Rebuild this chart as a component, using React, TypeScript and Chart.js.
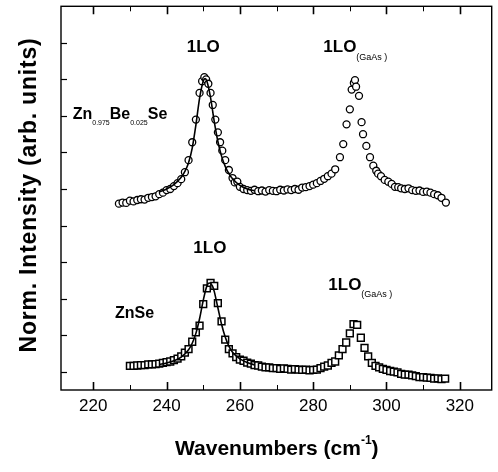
import React, { useEffect, useRef } from "react";
import { Chart, registerables } from "chart.js";

Chart.register(...registerables);

// ---- data ----
const circleX = [
  227, 228, 229, 230, 231, 232, 233, 234, 235, 236, 237, 238, 239, 240, 241, 242, 243, 244, 245, 246,
  247, 248, 249, 249.7, 250.3, 250.8, 251.4, 252, 252.6, 253.3, 254, 254.6, 255.2, 256, 257, 258,
  258.6, 259.3, 260, 261, 262, 263, 264, 265, 266, 267, 268, 269, 270, 271, 272, 273, 274, 275, 276,
  277, 278, 279, 280, 281, 282, 283, 284, 285, 286, 287.3, 288.2, 289.1, 290, 290.5, 291.1, 291.4,
  291.7, 292.5, 293.2, 293.6, 294.5, 295.5, 296.4, 297.2, 297.7, 298.5, 299.5, 300.5, 301.4, 302.3,
  303.2, 304, 305, 306, 307, 308, 309, 310, 311, 312, 313, 314, 315, 316.2,
];
const circleY = [
  5.10, 5.13, 5.12, 5.18, 5.16, 5.20, 5.22, 5.21, 5.26, 5.28, 5.30, 5.36, 5.40, 5.47, 5.50, 5.58, 5.66, 5.77, 5.96, 6.29,
  6.78, 7.40, 8.13, 8.45, 8.56, 8.50, 8.38, 8.13, 7.80, 7.40, 7.05, 6.78, 6.55, 6.29, 6.02, 5.80,
  5.68, 5.70, 5.56, 5.50, 5.47, 5.45, 5.48, 5.44, 5.46, 5.43, 5.47, 5.45, 5.44, 5.48, 5.46, 5.49, 5.47, 5.50, 5.48,
  5.54, 5.55, 5.58, 5.62, 5.66, 5.72, 5.78, 5.85, 5.92, 6.04, 6.37, 6.73, 7.27, 7.68, 8.22, 8.40, 8.48,
  8.30, 8.05, 7.33, 7.00, 6.68, 6.37, 6.14, 6.00, 5.92, 5.85, 5.75, 5.70, 5.64, 5.56,
  5.55, 5.52, 5.50, 5.52, 5.47, 5.45, 5.46, 5.42, 5.43, 5.40, 5.36, 5.33, 5.26, 5.13,
];

const squareX = [
  230, 231, 232, 233, 234, 235, 236, 237, 238, 239, 240, 241, 242, 243, 244, 245, 246, 247, 248, 249,
  250, 251, 252, 253, 254, 255, 256, 257, 258, 259, 260, 261, 262, 263, 264, 265, 266, 267, 268, 269,
  270, 271, 272, 273, 274, 275, 276, 277, 278, 279, 280, 281, 282, 283, 284, 285, 286, 287, 288, 289,
  290, 291, 292, 293, 294, 295, 296, 297, 298, 299, 300, 301, 302, 303, 304, 305, 306, 307, 308, 309,
  310, 311, 312, 313, 314, 315, 316,
];
const squareY = [
  0.66, 0.66, 0.67, 0.68, 0.68, 0.70, 0.70, 0.71, 0.72, 0.74, 0.76, 0.78, 0.82, 0.86, 0.92, 1.02, 1.12, 1.32, 1.58, 1.76,
  2.35, 2.78, 2.93, 2.85, 2.38, 1.88, 1.38, 1.12, 1.00, 0.90, 0.83, 0.80, 0.75, 0.72, 0.68, 0.67, 0.64, 0.62, 0.62, 0.60,
  0.60, 0.58, 0.59, 0.58, 0.56, 0.57, 0.56, 0.55, 0.56, 0.54, 0.55, 0.56, 0.60, 0.64, 0.67, 0.74, 0.78, 0.95, 1.12, 1.30,
  1.55, 1.80, 1.78, 1.43, 1.15, 0.92, 0.74, 0.66, 0.62, 0.58, 0.55, 0.52, 0.50, 0.48, 0.44, 0.42, 0.42, 0.40, 0.38, 0.35,
  0.35, 0.34, 0.33, 0.31, 0.32, 0.30, 0.31,
];

const fitTopX = [238, 240, 242, 244, 245, 246, 247, 248, 249, 250, 250.5, 251, 252, 253, 254, 255, 256, 257, 258, 260, 262, 264];
const fitTopY = [5.42, 5.50, 5.62, 5.82, 5.98, 6.22, 6.62, 7.25, 7.98, 8.45, 8.52, 8.45, 8.00, 7.35, 6.80, 6.40, 6.12, 5.92, 5.78, 5.60, 5.50, 5.45];

const fitBotX = [238, 240, 242, 244, 246, 247, 248, 249, 250, 251, 251.7, 252.5, 253, 254, 255, 256, 257, 258, 260, 262, 264];
const fitBotY = [0.70, 0.74, 0.80, 0.90, 1.10, 1.28, 1.55, 1.95, 2.45, 2.85, 2.93, 2.85, 2.70, 2.25, 1.80, 1.45, 1.20, 1.03, 0.85, 0.75, 0.69];

const xTickValues = [220, 230, 240, 250, 260, 270, 280, 290, 300, 310, 320];
const xTickLabels = ["220", "", "240", "", "260", "", "280", "", "300", "", "320"];
const yTickValues = [0.5, 1.5, 2.5, 3.5, 4.5, 5.5, 6.5, 7.5, 8.5, 9.5];

const xTitle = "Wavenumbers (cm";
const xTitleSup = "-1";
const xTitleEnd = ")";
const yTitle = "Norm. Intensity (arb. units)";

const FONT = "'Liberation Sans', Arial, Helvetica, sans-serif";
const NARROW = "'Liberation Sans Narrow', 'Liberation Sans', Arial, sans-serif";

type Part = { t: string; size: number; dy?: number; bold?: boolean; font?: string };

function drawParts(ctx: CanvasRenderingContext2D, x: number, y: number, parts: Part[]) {
  let cx = x;
  for (const p of parts) {
    ctx.font = `${p.bold ? "bold " : ""}${p.size}px ${p.font || FONT}`;
    ctx.fillText(p.t, cx, y + (p.dy || 0));
    cx += ctx.measureText(p.t).width;
  }
}

const decorPlugin = {
  id: "decor",
  afterDraw(chart: any) {
    const ctx: CanvasRenderingContext2D = chart.ctx;
    const { left, right, top, bottom } = chart.chartArea;
    const xs = chart.scales.x;
    const ys = chart.scales.y;
    ctx.save();
    ctx.strokeStyle = "#000";
    ctx.fillStyle = "#000";
    // frame
    ctx.lineWidth = 1.4;
    ctx.strokeRect(left, top, right - left, bottom - top);
    // x ticks
    xTickValues.forEach((v, i) => {
      const px = Math.round(xs.getPixelForValue(v)) + 0.5;
      const major = xTickLabels[i] !== "";
      const len = major ? 8 : 5;
      ctx.lineWidth = major ? 1.6 : 1;
      ctx.beginPath();
      ctx.moveTo(px, bottom);
      ctx.lineTo(px, bottom - len);
      ctx.moveTo(px, top);
      ctx.lineTo(px, top + len);
      ctx.stroke();
    });
    // y ticks
    ctx.lineWidth = 1.2;
    yTickValues.forEach((v) => {
      const py = Math.round(ys.getPixelForValue(v)) + 0.5;
      ctx.beginPath();
      ctx.moveTo(left, py);
      ctx.lineTo(left + 6, py);
      ctx.stroke();
    });
    // x tick labels
    ctx.textAlign = "center";
    ctx.textBaseline = "alphabetic";
    ctx.font = `17px ${NARROW}`;
    xTickValues.forEach((v, i) => {
      if (xTickLabels[i]) ctx.fillText(xTickLabels[i], xs.getPixelForValue(v), bottom + 21);
    });
    ctx.textAlign = "left";
    // annotations
    drawParts(ctx, 186.7, 51.7, [{ t: "1LO", size: 17, bold: true }]);
    drawParts(ctx, 323.3, 51.7, [
      { t: "1LO", size: 17, bold: true },
      { t: "(GaAs )", size: 9, dy: 8 },
    ]);
    drawParts(ctx, 72.7, 119.3, [
      { t: "Zn", size: 16, bold: true },
      { t: "0.975", size: 7, dy: 6 },
      { t: "Be", size: 16, bold: true },
      { t: "0.025", size: 7, dy: 6 },
      { t: "Se", size: 16, bold: true },
    ]);
    drawParts(ctx, 193.3, 253.3, [{ t: "1LO", size: 17, bold: true }]);
    drawParts(ctx, 328.3, 290, [
      { t: "1LO", size: 17, bold: true },
      { t: "(GaAs )", size: 9, dy: 7 },
    ]);
    drawParts(ctx, 115, 318.3, [{ t: "ZnSe", size: 16, bold: true }]);
    // x title
    drawParts(ctx, 175, 455, [
      { t: xTitle, size: 21, bold: true },
      { t: xTitleSup, size: 12, dy: -11, bold: true },
      { t: xTitleEnd, size: 21, bold: true },
    ]);
    // y title
    ctx.translate(36, 195);
    ctx.rotate(-Math.PI / 2);
    ctx.textAlign = "center";
    ctx.font = `bold 23px ${FONT}`;
    try {
      (ctx as any).letterSpacing = "0.8px";
    } catch (e) {}
    ctx.fillText(yTitle, 0, 0);
    ctx.restore();
  },
};

export default function App() {
  const ref = useRef<HTMLCanvasElement | null>(null);
  useEffect(() => {
    if (!ref.current) return;
    const toPts = (xs: number[], ys: number[]) => xs.map((x, i) => ({ x, y: ys[i] }));
    const chart = new Chart(ref.current, {
      type: "scatter",
      data: {
        datasets: [
          {
            label: "fitTop",
            data: toPts(fitTopX, fitTopY),
            showLine: true,
            borderColor: "#000",
            borderWidth: 1.6,
            pointRadius: 0,
            cubicInterpolationMode: "monotone",
          } as any,
          {
            label: "fitBot",
            data: toPts(fitBotX, fitBotY),
            showLine: true,
            borderColor: "#000",
            borderWidth: 1.6,
            pointRadius: 0,
            cubicInterpolationMode: "monotone",
          } as any,
          {
            label: "Zn0.975Be0.025Se",
            data: toPts(circleX, circleY),
            pointStyle: "circle",
            pointRadius: 3.5,
            borderWidth: 1.3,
            borderColor: "#000",
            backgroundColor: "#fff",
          },
          {
            label: "ZnSe",
            data: toPts(squareX, squareY),
            pointStyle: "rect",
            pointRadius: 4.8,
            borderWidth: 1.5,
            borderColor: "#000",
            backgroundColor: "#fff",
          },
        ],
      },
      options: {
        animation: false,
        responsive: false,
        events: [],
        layout: { padding: { left: 61, right: 6, top: 2, bottom: 82 } },
        plugins: { legend: { display: false }, tooltip: { enabled: false }, title: { display: false } },
        scales: {
          x: { type: "linear", min: 211.2, max: 328.7, display: false },
          y: { type: "linear", min: 0, max: 10.5, display: false },
        },
      },
      plugins: [decorPlugin],
    });
    return () => chart.destroy();
  }, []);
  return (
    <div style={{ position: "fixed", left: 0, top: 0, width: 498, height: 472, background: "#fff" }}>
      <canvas ref={ref} width={498} height={472} style={{ display: "block" }} />
    </div>
  );
}
